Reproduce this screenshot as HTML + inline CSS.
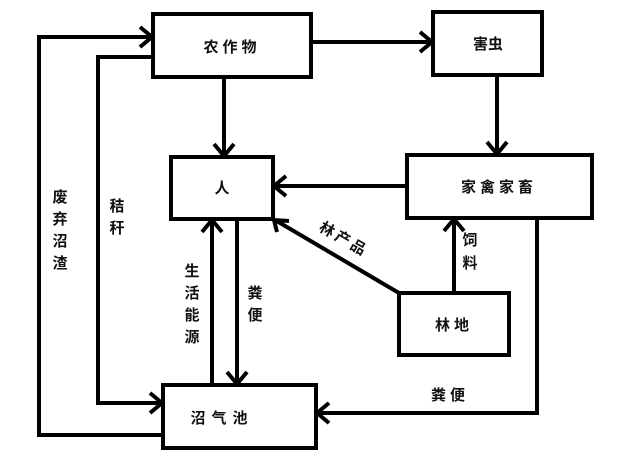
<!DOCTYPE html>
<html><head><meta charset="utf-8"><style>
body{margin:0;background:#fff;}
svg text{font-family:"Liberation Sans","Noto Sans CJK SC",sans-serif;font-weight:bold;font-size:15px;fill:#111;}
</style></head><body>
<svg width="617" height="461" viewBox="0 0 617 461" xmlns="http://www.w3.org/2000/svg">
<g fill="none" stroke="#000" stroke-width="4" stroke-linejoin="miter">
<rect x="153" y="14" width="158" height="63"/>
<rect x="433" y="12" width="109" height="63"/>
<rect x="171" y="157" width="102" height="62"/>
<rect x="407" y="155" width="185" height="63"/>
<rect x="399" y="293" width="110" height="62"/>
<rect x="163" y="385" width="153" height="63"/>
<!-- connectors -->
<polyline points="163,435 39,435 39,37 151,37"/>
<polyline points="153,57 98,57 98,403 161,403"/>
<line x1="311" y1="42" x2="431" y2="42"/>
<line x1="497" y1="75" x2="497" y2="153"/>
<line x1="224" y1="77" x2="224" y2="155"/>
<line x1="407" y1="186" x2="275" y2="186"/>
<line x1="212" y1="385" x2="212" y2="221"/>
<line x1="237" y1="219" x2="237" y2="383"/>
<line x1="399" y1="293" x2="275" y2="220"/>
<line x1="454" y1="293" x2="454" y2="220"/>
<polyline points="537,218 537,413 318,413"/>
<!-- arrowheads -->
<polyline points="140,27 152,37 140,47"/>
<polyline points="150,393 162,403 150,413"/>
<polyline points="420,32 432,42 420,52"/>
<polyline points="487,142 497,154 507,142"/>
<polyline points="214,144 224,156 234,144"/>
<polyline points="286,176 274,186 286,196"/>
<polyline points="202,232 212,220 222,232"/>
<polyline points="227,372 237,384 247,372"/>
<polyline points="277,232 274,220 289,221"/>
<polyline points="444,231 454,219 464,231"/>
<polyline points="329,403 317,413 329,423"/>
</g>
<text x="232" y="52" text-anchor="middle" letter-spacing="4">农作物</text>
<text x="488" y="49" text-anchor="middle">害虫</text>
<text x="222" y="193" text-anchor="middle">人</text>
<text x="499" y="192" text-anchor="middle" letter-spacing="4">家禽家畜</text>
<text x="454" y="330" text-anchor="middle" letter-spacing="4">林地</text>
<text x="222" y="423" text-anchor="middle" letter-spacing="6">沼气池</text>
<g text-anchor="middle">
<text x="60" y="202">废</text><text x="60" y="224">弃</text><text x="60" y="246">沼</text><text x="60" y="268">渣</text>
<text x="117" y="211">秸</text><text x="117" y="233">秆</text>
<text x="192" y="276">生</text><text x="192" y="298">活</text><text x="192" y="320">能</text><text x="192" y="342">源</text>
<text x="255" y="298">粪</text><text x="255" y="320">便</text>
<text x="470" y="245">饲</text><text x="470" y="268">料</text>
</g>
<text x="450" y="400" text-anchor="middle" letter-spacing="4">粪便</text>
<text x="0" y="0" transform="translate(318,230) rotate(30)" letter-spacing="3">林产品</text>
</svg>
</body></html>
